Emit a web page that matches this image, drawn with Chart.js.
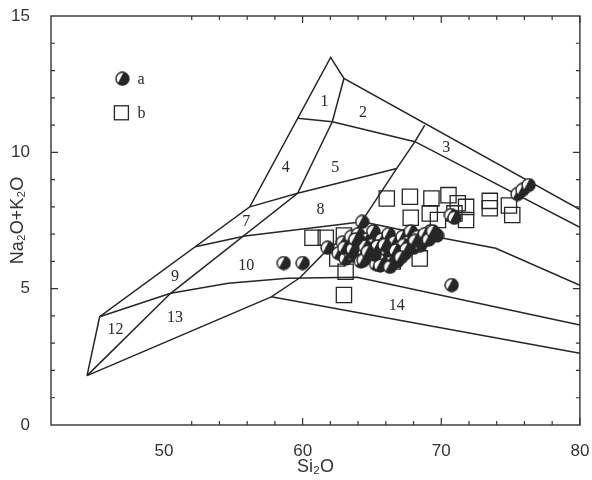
<!DOCTYPE html>
<html>
<head>
<meta charset="utf-8">
<script src="https://cdn.jsdelivr.net/npm/chart.js@4.4.1/dist/chart.umd.min.js"></script>
<style>
html,body{margin:0;padding:0;background:#fff;}
#wrap{width:592px;height:480px;position:relative;}
</style>
</head>
<body>
<div id="wrap"><canvas id="c" width="592" height="480"></canvas></div>
<script>
// ---- data: series a (half-filled circles) ----
const aSi  = [58.64,60.0,70.75,75.5,75.85,76.3,61.8,64.3,69.7,69.2,70.7,70.95,
  62.6,62.9,63.1,63.3,63.5,63.7,63.9,64.0,64.2,64.4,64.6,64.8,65.0,65.1,65.3,65.5,65.7,65.9,
  66.0,66.2,66.4,66.6,66.8,67.0,67.2,67.4,67.6,67.8,68.0,68.3,68.5,68.8,69.1,69.4,64.4,66.8,65.6,66.3,
  63.4,64.1,64.9,65.8,66.5,67.3,68.1,63.0,65.2,66.9,
  63.6,64.5,65.4,66.1,66.7,67.5,64.7,65.9,67.1,63.8];
const aAlk = [5.94,5.94,5.13,8.47,8.62,8.80,6.50,7.45,6.95,7.10,7.70,7.60,
  6.3,6.7,6.1,6.5,6.9,6.2,6.6,7.0,6.0,6.4,6.8,6.2,6.6,7.1,5.9,6.4,6.8,6.1,
  6.5,7.0,6.3,6.7,6.0,6.5,6.9,6.3,6.7,7.1,6.5,6.9,6.6,7.0,6.8,7.1,6.05,6.05,5.85,5.8,
  6.35,6.75,6.45,6.6,6.2,6.6,6.75,6.5,6.25,6.3,
  6.45,6.55,6.55,6.4,6.4,6.45,6.35,6.6,6.15,6.8];
// ---- data: series b (open squares) ----
const bSi  = [66.07,67.74,69.29,70.52,71.19,71.79,73.5,73.5,74.88,75.12,
  67.8,69.17,69.76,70.95,71.79,60.71,61.67,62.98,62.5,63.1,62.98,68.45,66.5];
const bAlk = [8.31,8.37,8.31,8.43,8.13,8.00,8.22,7.95,8.05,7.70,
  7.60,7.76,7.52,7.76,7.52,6.87,6.87,6.95,6.11,5.62,4.77,6.11,6.0];
// ---- field boundary polylines (SiO2, alkali) ----
const outerSi = [44.45,45.36,56.19,62.02,62.98,80];
const outerAlk = [1.81,3.97,8.0,13.48,12.71,7.9];
const lineBSi = [62.98,62.14,59.64,50.48,44.45];
const lineBAlk = [12.71,11.12,8.5,4.83,1.81];
const lineH1Si = [59.65,62.14,68.1,80];
const lineH1Alk = [11.25,11.12,10.39,7.25];
const lineCSi = [56.19,59.64,66.79];
const lineCAlk = [8.0,8.5,9.41];
const lineESi = [52.26,55.84,61.8,64.3,68.93,73.93,80];
const lineEAlk = [6.54,6.93,7.3,7.45,6.97,6.48,5.12];
const lineDSi = [44.45,57.74,59.8,62.0,63.6,66.79,68.1,68.81];
const lineDAlk = [1.81,4.70,5.4,6.54,6.95,9.41,10.39,11.0];
const lineFSi = [45.36,50.48,54.64,58.93,63.93,80];
const lineFAlk = [3.97,4.83,5.2,5.38,5.42,3.67];
const lineGSi = [57.74,80];
const lineGAlk = [4.70,2.63];
// ---- field numbers ----
const fieldNames = ['1','2','3','4','5','7','8','9','10','12','13','14'];
const fieldSi  = [61.57,64.36,70.36,58.79,62.36,55.93,61.29,50.79,55.93,46.5,50.79,66.79];
const fieldAlk = [11.84,11.44,10.16,9.42,9.42,7.44,7.88,5.43,5.83,3.48,3.92,4.36];
// ---- ticks ----
const xTickLabels = [50,60,70,80];
const yTickLabels = [0,5,10,15];
const xMinorTicks = [52,54,56,58,60,62,64,66,68,70,72,74,76,78,80];
const yMinorTicks = [1,2,3,4,5,6,7,8,9,10,11,12,13,14];
const legendNames = ['a','b'];

const INK = '#262626';
function pts(xs, ys){ return xs.map((v,i)=>({x:v,y:ys[i]})); }

function makeHalfCircle(){
  const c = document.createElement('canvas'); c.width=15; c.height=15;
  const g = c.getContext('2d'); const cx=7.5, cy=7.5, r=6.5;
  g.fillStyle='#fff'; g.beginPath(); g.arc(cx,cy,r,0,2*Math.PI); g.fill();
  g.fillStyle=INK; g.beginPath(); g.arc(cx,cy,r,-80*Math.PI/180,135*Math.PI/180); g.closePath(); g.fill();
  g.strokeStyle=INK; g.lineWidth=1.4; g.beginPath(); g.arc(cx,cy,r,0,2*Math.PI); g.stroke();
  return c;
}
const halfImg = makeHalfCircle();

function lineDs(xs, ys){
  return {type:'scatter', data:pts(xs,ys), showLine:true, borderColor:INK, borderWidth:1.5,
    pointRadius:0, fill:false, order:3, tension:0};
}

const frame = {
  id:'frame',
  afterDatasetsDraw(chart){
    const {ctx, chartArea:{left,right,top,bottom}, scales:{x,y}} = chart;
    ctx.save();
    // field numbers
    ctx.fillStyle='#2a2a2a'; ctx.font='16px "Liberation Serif", "Times New Roman", serif';
    ctx.textAlign='center'; ctx.textBaseline='middle';
    fieldNames.forEach((n,i)=>ctx.fillText(n, x.getPixelForValue(fieldSi[i]), y.getPixelForValue(fieldAlk[i])));
    // legend
    const lx = x.getPixelForValue(47.0), ly1 = y.getPixelForValue(12.7), ly2 = y.getPixelForValue(11.45);
    ctx.drawImage(halfImg, lx-7.5, ly1-7.5);
    ctx.strokeStyle=INK; ctx.lineWidth=1.3; ctx.strokeRect(lx-8, ly2-7, 14, 14);
    ctx.textAlign='left';
    ctx.fillText(legendNames[0], lx+15, ly1+1);
    ctx.fillText(legendNames[1], lx+15, ly2+1);
    // frame box
    ctx.strokeStyle='#333'; ctx.lineWidth=1.4;
    ctx.strokeRect(left, top, right-left, bottom-top);
    ctx.lineWidth=1.2;
    ctx.beginPath();
    xMinorTicks.forEach(v=>{
      const p = x.getPixelForValue(v); const len = (v%10===0)?7:4;
      ctx.moveTo(p,bottom); ctx.lineTo(p,bottom-len);
      ctx.moveTo(p,top); ctx.lineTo(p,top+len);
    });
    yMinorTicks.forEach(v=>{
      const p = y.getPixelForValue(v); const len = (v%5===0)?7:4;
      ctx.moveTo(left,p); ctx.lineTo(left+len,p);
      ctx.moveTo(right,p); ctx.lineTo(right-len,p);
    });
    ctx.stroke();
    ctx.restore();
  }
};

new Chart(document.getElementById('c'), {
  type:'scatter',
  data:{datasets:[
    {label:'a', data:pts(aSi,aAlk), pointStyle:halfImg, pointRadius:7, order:1},
    {label:'b', data:pts(bSi,bAlk), pointStyle:'rect', pointRadius:10.8, borderColor:INK,
      backgroundColor:'rgba(0,0,0,0)', pointBorderWidth:1.3, order:2},
    lineDs(outerSi,outerAlk), lineDs(lineBSi,lineBAlk), lineDs(lineH1Si,lineH1Alk),
    lineDs(lineCSi,lineCAlk), lineDs(lineESi,lineEAlk), lineDs(lineDSi,lineDAlk),
    lineDs(lineFSi,lineFAlk), lineDs(lineGSi,lineGAlk)
  ]},
  options:{
    responsive:false, animation:false,
    layout:{padding:{left:0,right:8,top:16,bottom:0}},
    plugins:{legend:{display:false}, tooltip:{enabled:false}},
    scales:{
      x:{type:'linear', min:41.85, max:80,
        afterBuildTicks:s=>{s.ticks = xTickLabels.map(v=>({value:v}));},
        afterFit:s=>{s.height=55; s.paddingLeft=0; s.paddingRight=0;},
        grid:{display:false}, border:{display:false},
        ticks:{color:'#333', font:{family:'"Liberation Sans", Arial, sans-serif', size:17}, padding:8, maxRotation:0},
        title:{display:true, text:'Si₂O', color:'#333', font:{family:'"Liberation Sans", Arial, sans-serif', size:18}, padding:{top:0,bottom:2}}
      },
      y:{type:'linear', min:0, max:15,
        afterBuildTicks:s=>{s.ticks = yTickLabels.map(v=>({value:v}));},
        afterFit:s=>{s.width=51; s.paddingTop=0; s.paddingBottom=0;},
        grid:{display:false}, border:{display:false},
        ticks:{color:'#333', font:{family:'"Liberation Sans", Arial, sans-serif', size:17}, padding:13},
        title:{display:true, text:'Na₂O+K₂O', color:'#333', font:{family:'"Liberation Sans", Arial, sans-serif', size:18}, padding:{top:7,bottom:0}}
      }
    }
  },
  plugins:[frame]
});
</script>
</body>
</html>
